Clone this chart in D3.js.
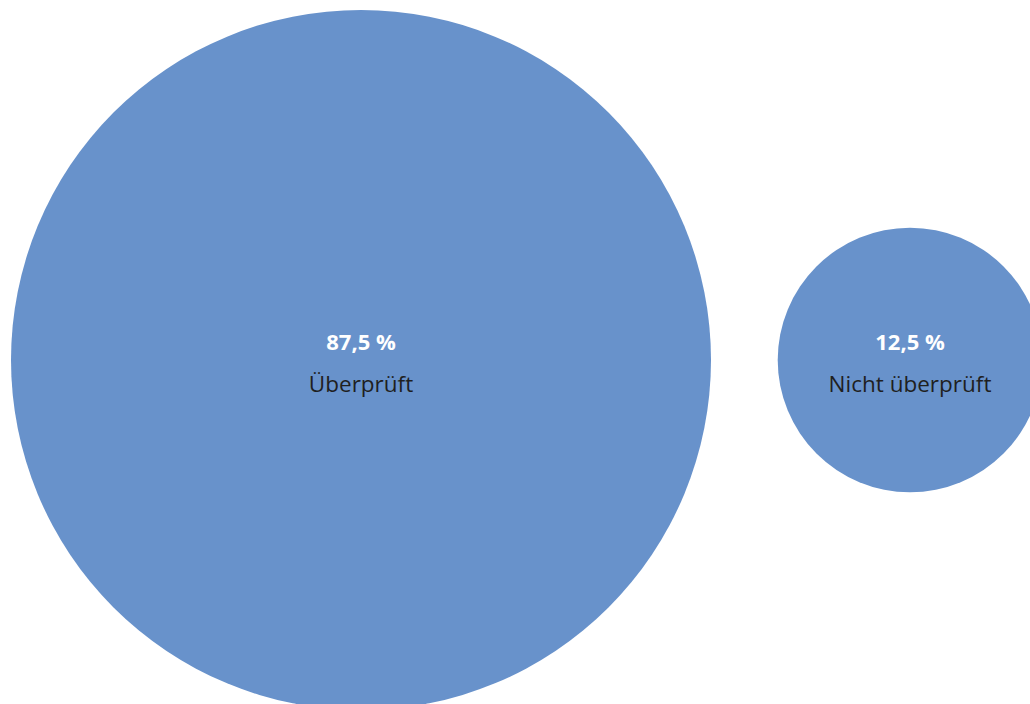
<!DOCTYPE html>
<html><head><meta charset="utf-8">
<script src="https://cdn.jsdelivr.net/npm/d3@7"></script>
<style>html,body{margin:0;padding:0;background:#fff;overflow:hidden}</style>
</head><body>
<svg id="c" width="1030" height="704"></svg>
<script>
const categories = ["Überprüft", "Nicht überprüft"];
const values = [87.5, 12.5];
const valueLabels = ["87,5 %", "12,5 %"];

const svg = d3.select("#c");
const x = d3.scalePoint().domain(categories).range([361, 910]);
const r = d3.scaleSqrt().domain([0, 87.5]).range([0, 350]);
const cy = 360;
const data = categories.map((c, i) => ({c, v: values[i], l: valueLabels[i]}));

const g = svg.selectAll("g.b").data(data).join("g").attr("class","b")
  .attr("transform", d => `translate(${x(d.c)},${cy})`);
g.append("circle").attr("r", d => r(d.v)).attr("fill", "#6892cb");
g.append("text").attr("text-anchor","middle")
  .attr("font-family","Open Sans, Noto Sans, sans-serif").attr("font-weight","bold")
  .attr("font-size", 22).attr("fill","#fff").attr("dy", "0.35em").attr("y", -18)
  .text(d => d.l);
g.append("text").attr("text-anchor","middle")
  .attr("font-family","Open Sans, Noto Sans, sans-serif")
  .attr("font-size", 22.5).attr("fill","#1f1f1f").attr("y", 24)
  .attr("dy","0.35em")
  .text(d => d.c);
</script>
</body></html>
